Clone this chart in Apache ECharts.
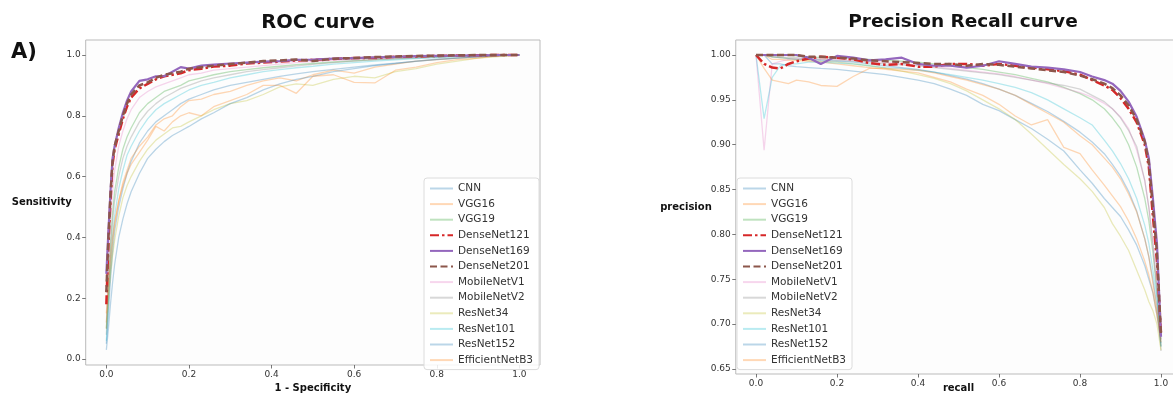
<!DOCTYPE html>
<html><head><meta charset="utf-8">
<script src="https://cdn.jsdelivr.net/npm/echarts@6/dist/echarts.min.js"></script>
<style>html,body{margin:0;padding:0;background:#fff}#c{width:1173px;height:394px}</style>
</head><body><div id="c"></div>
<script>
const models = ['CNN','VGG16','VGG19','DenseNet121','DenseNet169','DenseNet201','MobileNetV1','MobileNetV2','ResNet34','ResNet101','ResNet152','EfficientNetB3'];
const xTicks = [0, 0.2, 0.4, 0.6, 0.8, 1.0];
const rocYTicks = [0, 0.2, 0.4, 0.6, 0.8, 1.0];
const prYTicks = [0.65, 0.70, 0.75, 0.80, 0.85, 0.90, 0.95, 1.00];

// ROC: shared false-positive-rate grid
const rocFpr = [0,0.005,0.01,0.015,0.02,0.03,0.04,0.05,0.06,0.08,0.1,0.12,0.14,0.16,0.18,0.2,0.23,0.26,0.3,0.34,0.38,0.42,0.46,0.5,0.55,0.6,0.65,0.7,0.75,0.8,0.85,0.9,0.95,1.0];
const roc_CNN = [0.05,0.15,0.26,0.35,0.42,0.5,0.56,0.61,0.65,0.71,0.75,0.78,0.8,0.82,0.84,0.855,0.87,0.885,0.9,0.91,0.92,0.93,0.938,0.945,0.953,0.96,0.967,0.973,0.979,0.985,0.99,0.994,0.997,1];
const roc_VGG16 = [0.1,0.2,0.3,0.38,0.44,0.52,0.58,0.62,0.66,0.7,0.73,0.77,0.79,0.8,0.83,0.85,0.855,0.87,0.88,0.9,0.915,0.925,0.915,0.935,0.95,0.94,0.96,0.97,0.98,0.985,0.99,0.995,0.998,1];
const roc_VGG19 = [0.1,0.25,0.38,0.48,0.55,0.63,0.69,0.73,0.76,0.81,0.84,0.86,0.88,0.89,0.9,0.915,0.925,0.935,0.945,0.952,0.958,0.963,0.968,0.972,0.977,0.981,0.985,0.988,0.991,0.994,0.996,0.998,0.999,1];
const roc_DenseNet121 = [0.18,0.38,0.52,0.64,0.69,0.74,0.79,0.83,0.86,0.89,0.905,0.92,0.93,0.935,0.94,0.95,0.955,0.962,0.965,0.972,0.975,0.978,0.982,0.984,0.987,0.99,0.99,0.994,0.995,0.997,0.998,0.999,1,1];
const roc_DenseNet169 = [0.28,0.42,0.55,0.66,0.7,0.76,0.81,0.85,0.88,0.915,0.92,0.93,0.93,0.945,0.96,0.955,0.965,0.968,0.972,0.975,0.978,0.98,0.984,0.985,0.988,0.99,0.992,0.994,0.996,0.997,0.998,0.999,1,1];
const roc_DenseNet201 = [0.22,0.4,0.54,0.65,0.7,0.75,0.8,0.84,0.87,0.9,0.91,0.925,0.935,0.94,0.945,0.955,0.96,0.965,0.97,0.975,0.98,0.982,0.985,0.98,0.988,0.99,0.993,0.995,0.997,0.998,0.999,1,1,1];
const roc_MobileNetV1 = [0.12,0.3,0.45,0.55,0.62,0.7,0.75,0.79,0.82,0.86,0.88,0.895,0.905,0.915,0.925,0.935,0.94,0.95,0.955,0.96,0.965,0.97,0.975,0.978,0.982,0.985,0.988,0.99,0.993,0.995,0.997,0.998,0.999,1];
const roc_MobileNetV2 = [0.08,0.22,0.35,0.45,0.52,0.6,0.66,0.7,0.73,0.78,0.815,0.84,0.86,0.875,0.89,0.9,0.915,0.925,0.935,0.945,0.952,0.958,0.964,0.969,0.975,0.98,0.984,0.987,0.99,0.993,0.996,0.998,0.999,1];
const roc_ResNet34 = [0.12,0.2,0.28,0.34,0.39,0.47,0.53,0.57,0.6,0.65,0.69,0.72,0.74,0.76,0.765,0.78,0.8,0.82,0.84,0.85,0.87,0.895,0.905,0.9,0.92,0.93,0.925,0.945,0.955,0.97,0.98,0.99,0.995,1];
const roc_ResNet101 = [0.06,0.18,0.3,0.4,0.47,0.56,0.62,0.67,0.7,0.75,0.79,0.82,0.84,0.855,0.87,0.885,0.9,0.91,0.925,0.935,0.945,0.952,0.958,0.963,0.97,0.975,0.98,0.984,0.988,0.991,0.994,0.997,0.999,1];
const roc_ResNet152 = [0.03,0.1,0.18,0.25,0.31,0.4,0.46,0.51,0.55,0.61,0.66,0.69,0.715,0.735,0.75,0.765,0.79,0.81,0.84,0.86,0.885,0.905,0.92,0.93,0.945,0.955,0.965,0.972,0.98,0.986,0.99,0.994,0.998,1];
const roc_EfficientNetB3 = [0.15,0.25,0.33,0.4,0.45,0.52,0.57,0.61,0.64,0.68,0.72,0.765,0.75,0.78,0.8,0.81,0.8,0.83,0.85,0.87,0.9,0.9,0.874,0.93,0.935,0.91,0.908,0.95,0.96,0.975,0.985,0.99,0.998,1];

// Precision-Recall: shared recall grid
const prRecall = [0,0.02,0.04,0.06,0.08,0.1,0.13,0.16,0.2,0.24,0.28,0.32,0.36,0.4,0.44,0.48,0.52,0.56,0.6,0.64,0.68,0.72,0.76,0.8,0.83,0.86,0.88,0.9,0.92,0.94,0.96,0.97,0.98,0.99,1.0];
const pr_CNN = [1,1,0.99,0.99,0.988,0.987,0.986,0.985,0.984,0.982,0.98,0.978,0.975,0.972,0.968,0.962,0.955,0.945,0.938,0.928,0.918,0.906,0.893,0.872,0.857,0.84,0.83,0.82,0.805,0.788,0.765,0.75,0.735,0.71,0.679];
const pr_VGG16 = [1,1,0.995,0.995,0.994,0.994,0.993,0.992,0.99,0.988,0.986,0.984,0.982,0.98,0.975,0.97,0.962,0.955,0.945,0.932,0.922,0.928,0.897,0.89,0.872,0.855,0.843,0.831,0.815,0.795,0.77,0.755,0.735,0.71,0.683];
const pr_VGG19 = [1,1,1,1,1,0.999,0.998,0.997,0.997,0.996,0.995,0.994,0.993,0.992,0.99,0.988,0.986,0.984,0.981,0.978,0.974,0.97,0.964,0.957,0.95,0.94,0.93,0.918,0.9,0.875,0.84,0.815,0.78,0.735,0.675];
const pr_DenseNet121 = [1,0.99,0.986,0.985,0.99,0.993,0.996,0.998,0.997,0.995,0.991,0.989,0.99,0.987,0.987,0.99,0.99,0.988,0.99,0.988,0.986,0.984,0.982,0.978,0.972,0.966,0.961,0.952,0.94,0.925,0.9,0.875,0.82,0.77,0.69];
const pr_DenseNet169 = [1,1,1,1,1,1,0.997,0.99,0.999,0.997,0.994,0.995,0.997,0.99,0.988,0.988,0.986,0.988,0.993,0.99,0.987,0.986,0.984,0.981,0.976,0.972,0.968,0.96,0.948,0.931,0.905,0.885,0.84,0.79,0.686];
const pr_DenseNet201 = [1,1,1,1,1,1,0.998,0.998,0.997,0.996,0.994,0.993,0.992,0.991,0.99,0.99,0.988,0.99,0.989,0.987,0.985,0.983,0.981,0.977,0.973,0.968,0.963,0.955,0.944,0.928,0.903,0.88,0.83,0.78,0.688];
const pr_MobileNetV1 = [1,0.894,0.99,0.993,0.995,0.996,0.996,0.995,0.995,0.994,0.993,0.992,0.99,0.989,0.987,0.985,0.983,0.981,0.979,0.976,0.972,0.968,0.963,0.958,0.953,0.946,0.94,0.931,0.918,0.894,0.86,0.83,0.79,0.74,0.683];
const pr_MobileNetV2 = [1,1,0.998,0.998,0.997,0.997,0.996,0.995,0.994,0.993,0.992,0.99,0.989,0.988,0.986,0.984,0.982,0.98,0.978,0.975,0.972,0.969,0.966,0.962,0.955,0.948,0.94,0.93,0.916,0.898,0.86,0.83,0.79,0.74,0.67];
const pr_ResNet34 = [1,1,0.998,0.997,0.996,0.995,0.994,0.993,0.992,0.99,0.988,0.985,0.982,0.978,0.974,0.968,0.96,0.95,0.94,0.928,0.912,0.895,0.878,0.862,0.848,0.83,0.812,0.798,0.782,0.76,0.738,0.725,0.715,0.7,0.671];
const pr_ResNet101 = [1,0.929,0.975,0.988,0.99,0.99,0.992,0.992,0.991,0.99,0.988,0.986,0.985,0.983,0.981,0.978,0.975,0.972,0.968,0.964,0.958,0.95,0.94,0.93,0.922,0.905,0.893,0.879,0.862,0.84,0.81,0.79,0.76,0.73,0.683];
const pr_ResNet152 = [1,1,0.998,0.997,0.996,0.995,0.995,0.994,0.993,0.992,0.99,0.988,0.986,0.984,0.981,0.977,0.973,0.968,0.962,0.955,0.946,0.937,0.926,0.914,0.903,0.89,0.878,0.865,0.848,0.826,0.795,0.775,0.75,0.72,0.675];
const pr_EfficientNetB3 = [1,0.985,0.972,0.97,0.968,0.972,0.97,0.966,0.965,0.976,0.985,0.985,0.984,0.983,0.98,0.976,0.972,0.967,0.962,0.955,0.945,0.935,0.925,0.91,0.9,0.885,0.875,0.862,0.845,0.825,0.795,0.775,0.745,0.715,0.68];

const rocData = {CNN:roc_CNN,VGG16:roc_VGG16,VGG19:roc_VGG19,DenseNet121:roc_DenseNet121,DenseNet169:roc_DenseNet169,DenseNet201:roc_DenseNet201,MobileNetV1:roc_MobileNetV1,MobileNetV2:roc_MobileNetV2,ResNet34:roc_ResNet34,ResNet101:roc_ResNet101,ResNet152:roc_ResNet152,EfficientNetB3:roc_EfficientNetB3};
const prData = {CNN:pr_CNN,VGG16:pr_VGG16,VGG19:pr_VGG19,DenseNet121:pr_DenseNet121,DenseNet169:pr_DenseNet169,DenseNet201:pr_DenseNet201,MobileNetV1:pr_MobileNetV1,MobileNetV2:pr_MobileNetV2,ResNet34:pr_ResNet34,ResNet101:pr_ResNet101,ResNet152:pr_ResNet152,EfficientNetB3:pr_EfficientNetB3};

const baseColors = ['31,119,180','255,127,14','44,160,44','214,39,40','148,103,189','140,86,75','227,119,194','127,127,127','188,189,34','23,190,207','31,119,180','255,127,14'];
function styleFor(name, i) {
  if (name === 'DenseNet121') return {color:'#d62728', width:2.5, type:[9,3,2.5,3]};
  if (name === 'DenseNet169') return {color:'#9467bd', width:2.2, type:'solid'};
  if (name === 'DenseNet201') return {color:'#8c564b', width:2.5, type:[7,3.5]};
  return {color:'rgba(' + baseColors[i] + ',0.3)', width:1.3, type:'solid'};
}
const FONT = 'DejaVu Sans';
const series = [];
models.forEach((m, i) => {
  const ls = styleFor(m, i);
  const dense = m.indexOf('DenseNet') === 0;
  series.push({name:m, type:'line', xAxisIndex:0, yAxisIndex:0, symbol:'none', showSymbol:false,
    data: rocFpr.map((x, k) => [x, rocData[m][k]]), lineStyle:ls, itemStyle:{color:ls.color}, z: dense ? 3 : 2, silent:true, animation:false});
  series.push({name:m, type:'line', xAxisIndex:1, yAxisIndex:1, symbol:'none', showSymbol:false,
    data: prRecall.map((x, k) => [x, prData[m][k]]), lineStyle:ls, itemStyle:{color:ls.color}, z: dense ? 3 : 2, silent:true, animation:false});
});

function axisCommon(ticks, digits) {
  return {
    axisLine:{show:false, onZero:false},
    splitLine:{show:false},
    axisTick:{show:true, length:3.5, lineStyle:{color:'#555', width:0.8}, customValues:ticks},
    axisLabel:{fontFamily:FONT, fontSize:9, color:'#333', margin:5, customValues:ticks, formatter:v => Number(v).toFixed(digits)}
  };
}
const legendCommon = {
  orient:'vertical', data:models,
  itemWidth:23, itemHeight:12, itemGap:4.6,
  padding:[5,6,4,5],
  itemStyle:{opacity:0},
  backgroundColor:'rgba(255,255,255,0.85)', borderColor:'#dcdcdc', borderWidth:1, borderRadius:3,
  textStyle:{fontFamily:FONT, fontSize:10.5, color:'#333'},
  selectedMode:false
};
const nameStyle = {fontFamily:FONT, fontWeight:'bold', fontSize:10, color:'#111'};

const option = {
  animation:false,
  backgroundColor:'#ffffff',
  title:[
    {text:'ROC curve', left:313, top:8, textAlign:'center', textStyle:{fontFamily:FONT, fontWeight:'bold', fontSize:19.5, color:'#111'}},
    {text:'Precision Recall curve', left:958, top:8, textAlign:'center', textStyle:{fontFamily:FONT, fontWeight:'bold', fontSize:18.5, color:'#111'}}
  ],
  graphic:[{type:'text', left:11, top:42, style:{text:'A)', font:'bold 21px "DejaVu Sans"', fill:'#111'}}],
  grid:[
    {left:85.7, right:633, top:40, bottom:29, outerBoundsMode:'none', containLabel:false, show:true, backgroundColor:'#fdfdfd', borderColor:'#bbbbbb', borderWidth:1},
    {left:735.75, right:-8.25, top:40, bottom:20, outerBoundsMode:'none', containLabel:false, show:true, backgroundColor:'#fdfdfd', borderColor:'#bbbbbb', borderWidth:1}
  ],
  xAxis:[
    Object.assign({type:'value', gridIndex:0, min:-0.05, max:1.05, name:'1 - Specificity', nameLocation:'middle', nameGap:18, nameMoveOverlap:false,
      nameTextStyle:nameStyle}, axisCommon(xTicks,1)),
    Object.assign({type:'value', gridIndex:1, min:-0.05, max:1.05, name:'recall', nameLocation:'middle', nameGap:9, nameMoveOverlap:false,
      nameTextStyle:nameStyle}, axisCommon(xTicks,1))
  ],
  yAxis:[
    Object.assign({type:'value', gridIndex:0, min:-0.0197, max:1.0493, name:'Sensitivity', nameLocation:'middle', nameRotate:0, nameGap:14, nameMoveOverlap:false,
      nameTextStyle:Object.assign({align:'right'}, nameStyle)}, axisCommon(rocYTicks,1)),
    Object.assign({type:'value', gridIndex:1, min:0.6444, max:1.0167, name:'precision', nameLocation:'middle', nameRotate:0, nameGap:24, nameMoveOverlap:false,
      nameTextStyle:Object.assign({align:'right'}, nameStyle)}, axisCommon(prYTicks,2))
  ],
  legend:[
    Object.assign({left:424, top:178}, legendCommon),
    Object.assign({left:737, top:178}, legendCommon)
  ],
  series:series
};
const chart = echarts.init(document.getElementById('c'), null, {renderer:'canvas'});
chart.setOption(option);
</script></body></html>
